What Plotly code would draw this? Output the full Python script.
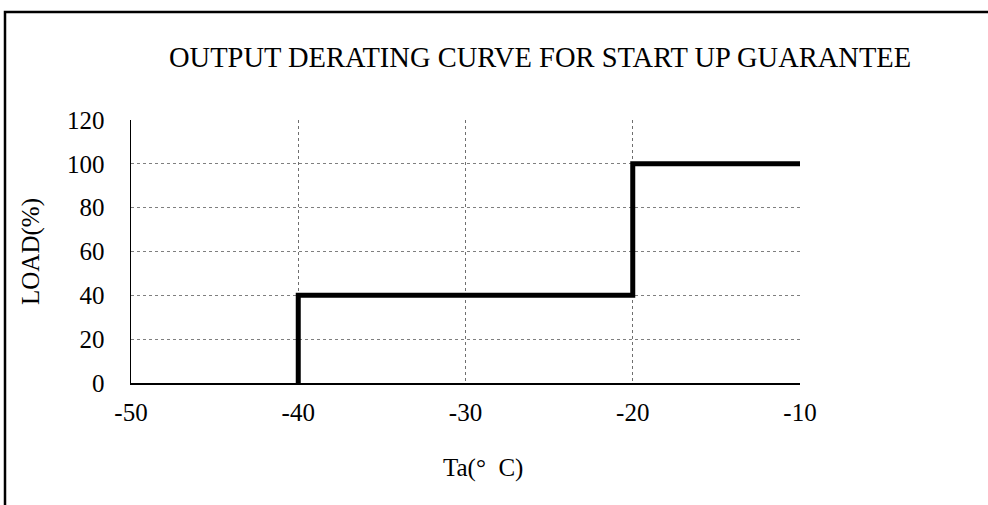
import plotly.graph_objects as go

# Data
temp_c = [-40, -40, -20, -20, -10]
load_pct = [0, 40, 40, 100, 100]
x_ticks = [-50, -40, -30, -20, -10]
y_ticks = [0, 20, 40, 60, 80, 100, 120]

title_text = "OUTPUT DERATING CURVE FOR START UP GUARANTEE"
x_title = "Ta(°\u00a0\u00a0C)"
y_title = "LOAD(%)"

FONT = "Liberation Serif, Times New Roman, serif"

L, R, T, B = 131, 800, 120, 383
W, H = 988, 505
PW, PH = R - L, B - T


def px(x):
    return (x - L) / PW


def py(y):
    return (B - y) / PH


fig = go.Figure()
fig.add_trace(go.Scatter(
    x=temp_c, y=load_pct, mode="lines",
    line=dict(color="black", width=5),
    showlegend=False, hoverinfo="skip",
))

fig.update_layout(
    width=W, height=H,
    margin=dict(l=L, r=W - R, t=T, b=H - B),
    paper_bgcolor="white", plot_bgcolor="white",
    font=dict(family=FONT, size=25, color="black"),
    showlegend=False,
    xaxis=dict(
        range=[-50, -10], tickvals=x_ticks, ticktext=[str(v) for v in x_ticks],
        showgrid=True, gridcolor="#6f6f6f", griddash="dot", gridwidth=1,
        showline=True, linecolor="black", linewidth=1.5,
        zeroline=False, ticks="", ticklabelstandoff=6,
        tickfont=dict(family=FONT, size=25),
    ),
    yaxis=dict(
        range=[0, 120], tickvals=y_ticks, ticktext=[str(v) for v in y_ticks],
        showgrid=True, gridcolor="#7f7f7f", griddash="dot", gridwidth=1,
        showline=True, linecolor="black", linewidth=1.5,
        zeroline=False, ticks="", ticklabelstandoff=20,
        tickfont=dict(family=FONT, size=25),
        title=dict(text=y_title, font=dict(family=FONT, size=25), standoff=20),
    ),
    yaxis2=dict(
        range=[0, 120], tickvals=y_ticks, overlaying="y", side="right",
        showgrid=False, zeroline=False, showticklabels=False,
        showline=True, linecolor="black", linewidth=1.5,
        ticks="outside", ticklen=8, tickcolor="#7f7f7f", tickwidth=1,
    ),
    annotations=[
        dict(text=title_text, xref="paper", yref="paper",
             x=px(540), y=py(58),
             xanchor="center", yanchor="middle", showarrow=False,
             font=dict(family=FONT, size=28.5, color="black")),
        dict(text=x_title, xref="paper", yref="paper",
             x=px(483), y=py(468),
             xanchor="center", yanchor="middle", showarrow=False,
             font=dict(family=FONT, size=25, color="black")),
    ],
    shapes=[
        dict(type="rect", xref="paper", yref="paper",
             x0=px(5), x1=px(1010),
             y0=py(530), y1=py(12),
             line=dict(color="black", width=2.5), fillcolor="rgba(0,0,0,0)",
             layer="below"),
    ],
)

fig.write_html(
    "out.html",
    config={"displayModeBar": False, "staticPlot": True},
    post_script="document.body.style.margin='0';document.body.style.overflow='hidden';",
)
